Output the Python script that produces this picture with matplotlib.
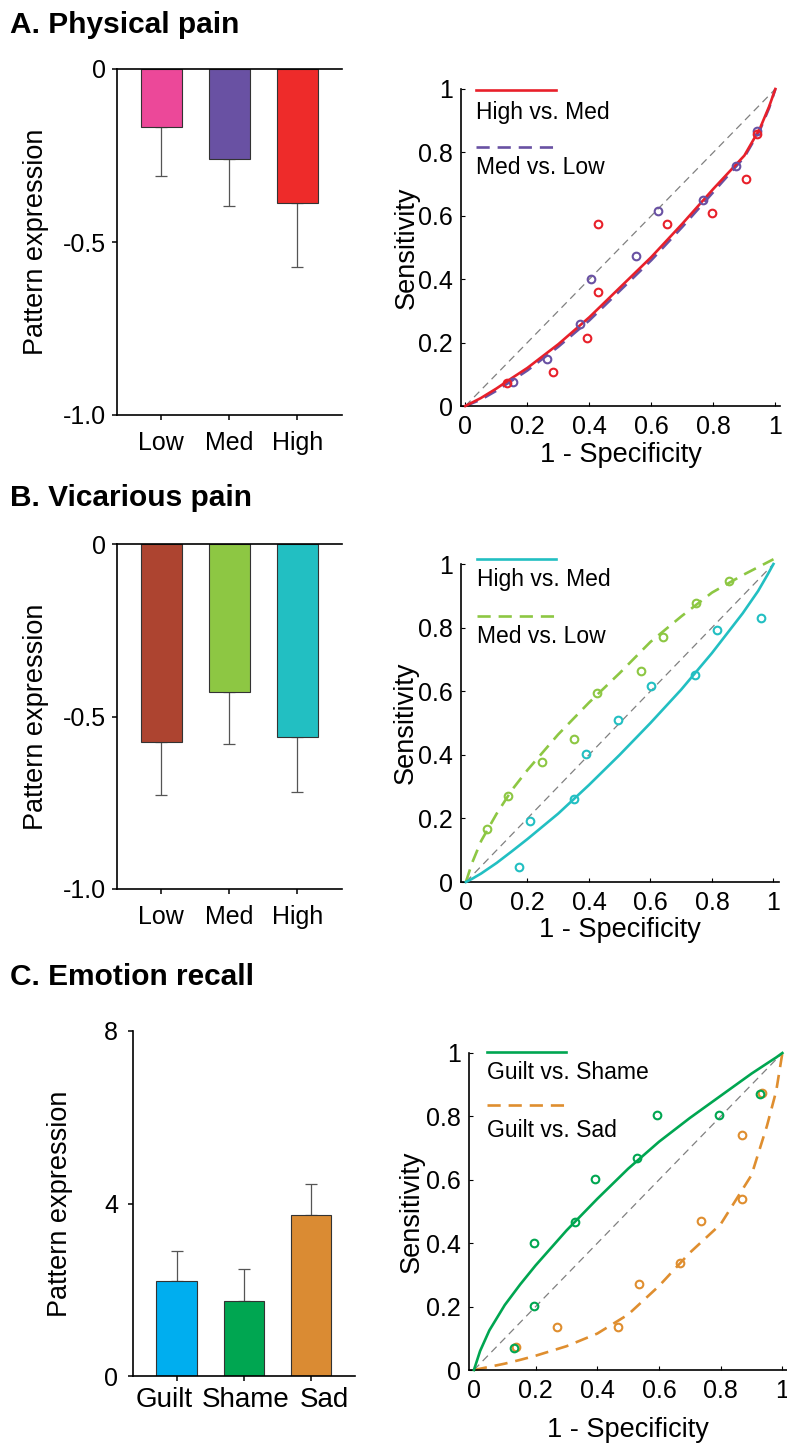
import matplotlib.pyplot as plt
from matplotlib.transforms import ScaledTranslation

plt.rcParams['font.family'] = ['Liberation Sans', 'DejaVu Sans']

W, H = 787, 1445

# bar charts: mean pattern expression and upper error (SEM)
pain_levels = ['Low', 'Med', 'High']
physical_mean = [-0.168, -0.261, -0.386]
physical_err = [0.142, 0.134, 0.185]
physical_colors = ['#EC4899', '#6951A3', '#EE2B2A']

vicarious_mean = [-0.575, -0.430, -0.560]
vicarious_err = [0.153, 0.150, 0.158]
vicarious_colors = ['#AD4430', '#8DC743', '#22BFC2']

emotions = ['Guilt', 'Shame', 'Sad']
emotion_mean = [2.20, 1.75, 3.73]
emotion_err = [0.70, 0.73, 0.73]
emotion_colors = ['#00AEEF', '#00A651', '#DA8B33']

# ROC observed points (1 - specificity, sensitivity)
a_hm_fpr = [0.134, 0.283, 0.391, 0.429, 0.429, 0.649, 0.795, 0.904, 0.942]
a_hm_tpr = [0.072, 0.106, 0.216, 0.359, 0.574, 0.574, 0.608, 0.717, 0.859]
a_ml_fpr = [0.154, 0.262, 0.369, 0.406, 0.550, 0.621, 0.766, 0.872, 0.942]
a_ml_tpr = [0.077, 0.148, 0.258, 0.400, 0.472, 0.614, 0.650, 0.758, 0.866]

b_hm_fpr = [0.174, 0.209, 0.352, 0.389, 0.496, 0.602, 0.745, 0.818, 0.960]
b_hm_tpr = [0.047, 0.191, 0.261, 0.402, 0.510, 0.617, 0.651, 0.793, 0.830]
b_ml_fpr = [0.068, 0.138, 0.247, 0.353, 0.426, 0.569, 0.640, 0.749, 0.857]
b_ml_tpr = [0.166, 0.271, 0.378, 0.450, 0.593, 0.664, 0.769, 0.877, 0.948]

c_gsh_fpr = [0.131, 0.196, 0.196, 0.328, 0.393, 0.528, 0.595, 0.795, 0.927]
c_gsh_tpr = [0.068, 0.202, 0.402, 0.468, 0.603, 0.668, 0.803, 0.803, 0.870]
c_gsa_fpr = [0.137, 0.268, 0.468, 0.534, 0.667, 0.735, 0.868, 0.868, 0.935]
c_gsa_tpr = [0.072, 0.137, 0.137, 0.272, 0.339, 0.471, 0.539, 0.740, 0.874]

# fitted ROC curves
curve_fpr = [0, 0.02, 0.05, 0.1, 0.15, 0.2, 0.3, 0.4, 0.5, 0.6, 0.7, 0.8, 0.9, 0.95, 0.98, 1.0]
a_hm_fit = [0, 0.01, 0.025, 0.055, 0.088, 0.12, 0.195, 0.28, 0.375, 0.47, 0.575, 0.685, 0.79, 0.875, 0.945, 1.0]
a_ml_fit = [0, 0.008, 0.02, 0.048, 0.08, 0.112, 0.187, 0.27, 0.365, 0.46, 0.565, 0.675, 0.785, 0.87, 0.94, 1.0]
b_hm_fit = [0, 0.01, 0.027, 0.06, 0.097, 0.135, 0.215, 0.305, 0.40, 0.50, 0.605, 0.72, 0.845, 0.915, 0.965, 1.0]
b_ml_fit = [0, 0.06, 0.13, 0.215, 0.29, 0.352, 0.464, 0.564, 0.657, 0.755, 0.835, 0.91, 0.965, 0.99, 1.005, 1.015]
c_gsh_fit = [0, 0.06, 0.125, 0.205, 0.27, 0.33, 0.44, 0.54, 0.635, 0.72, 0.795, 0.865, 0.935, 0.967, 0.986, 1.0]
c_gsa_fit = [0, 0.004, 0.01, 0.02, 0.032, 0.045, 0.075, 0.115, 0.175, 0.265, 0.37, 0.46, 0.615, 0.77, 0.88, 1.0]

fig = plt.figure(figsize=(W / 100, H / 100), dpi=100)


def px_axes(l, t, r, b):
    return fig.add_axes([l / W, 1 - b / H, (r - l) / W, (b - t) / H])


def bar_panel(ax, labels, mean, err, colors, ylim, yticks, yticklabels, negative,
              xsize, xpad, ypad, ylab_x):
    pos = list(range(len(labels)))
    if negative:
        yerr = [err, [0] * len(err)]
    else:
        yerr = [[0] * len(err), err]
    ax.bar(pos, mean, width=0.6, color=colors, edgecolor='#333333', linewidth=0.8, zorder=2)
    ax.errorbar(pos, mean, yerr=yerr, fmt='none', ecolor='#555555', elinewidth=0.9,
                capsize=4, capthick=0.9, zorder=1)
    ax.set_xlim(-0.65, 2.66)
    ax.set_ylim(*ylim)
    ax.set_yticks(yticks)
    ax.set_yticklabels(yticklabels)
    ax.set_xticks(pos)
    ax.set_xticklabels(labels)
    ax.spines['right'].set_visible(False)
    ax.spines['top'].set_visible(negative)
    for s in ax.spines.values():
        s.set_linewidth(1.2)
    ax.tick_params(direction='out', length=3.6, width=1.1)
    ax.tick_params(axis='x', labelsize=xsize, pad=xpad)
    ax.tick_params(axis='y', labelsize=18, pad=ypad)
    ax.set_ylabel('Pattern expression', fontsize=19.5)
    ax.yaxis.label.set_va('center')
    ax.yaxis.set_label_coords(ylab_x, 0.5)


def roc_panel(ax, fpr1, tpr1, fit1, c1, lab1, fpr2, tpr2, fit2, c2, lab2, xlim, leg,
              xlab_y, ylab_x):
    ax.plot([0, 1], [0, 1], color='#808080', lw=0.9, dashes=(6, 4), zorder=1)
    ax.plot(curve_fpr, fit2, color=c2, lw=1.9, dashes=(5, 3), zorder=2, clip_on=False)
    ax.plot(curve_fpr, fit1, color=c1, lw=1.9, zorder=3, clip_on=False)
    ax.plot(fpr2, tpr2, 'o', mfc='none', mec=c2, mew=1.5, ms=5.5, zorder=4)
    ax.plot(fpr1, tpr1, 'o', mfc='none', mec=c1, mew=1.5, ms=5.5, zorder=4)
    ax.set_xlim(*xlim)
    ax.set_ylim(0, 1)
    ticks = [0, 0.2, 0.4, 0.6, 0.8, 1]
    names = ['0', '0.2', '0.4', '0.6', '0.8', '1']
    ax.set_xticks(ticks)
    ax.set_xticklabels(names)
    ax.set_yticks(ticks)
    ax.set_yticklabels(names)
    ax.spines['right'].set_visible(False)
    ax.spines['top'].set_visible(False)
    for s in ax.spines.values():
        s.set_linewidth(1.2)
    ax.tick_params(direction='in', length=3, width=0.8, labelsize=18)
    ax.tick_params(axis='x', pad=6.5)
    ax.tick_params(axis='y', pad=6)
    ax.set_xlabel('1 - Specificity', fontsize=19.5)
    ax.xaxis.label.set_va('center')
    ax.xaxis.set_label_coords(0.5, xlab_y)
    ax.set_ylabel('Sensitivity', fontsize=19.5)
    ax.yaxis.label.set_va('center')
    ax.yaxis.set_label_coords(ylab_x, 0.5)
    # legend drawn by hand: line sample above each label
    x0, x1, y1, t1, y2, t2 = leg
    ax.plot([x0, x1], [y1, y1], color=c1, lw=1.9, transform=ax.transAxes, clip_on=False)
    ax.text(x0, t1, lab1, fontsize=16.5, va='center', ha='left', transform=ax.transAxes)
    ax.plot([x0, x1], [y2, y2], color=c2, lw=1.9, dashes=(5, 3), transform=ax.transAxes, clip_on=False)
    ax.text(x0, t2, lab2, fontsize=16.5, va='center', ha='left', transform=ax.transAxes)


# A. Physical pain
ax = px_axes(117, 69, 342, 415)
bar_panel(ax, pain_levels, physical_mean, physical_err, physical_colors,
          (-1, 0), [-1, -0.5, 0], ['-1.0', '-0.5', '0'], True, 18, 8, 4, -0.36)
ax = px_axes(461, 89, 780, 406)
roc_panel(ax, a_hm_fpr, a_hm_tpr, a_hm_fit, '#E8202A', 'High vs. Med',
          a_ml_fpr, a_ml_tpr, a_ml_fit, '#6951A3', 'Med vs. Low',
          (-0.014, 1.015), (0.047, 0.298, 0.997, 0.927, 0.817, 0.751), -0.156, -0.17)

# B. Vicarious pain
ax = px_axes(117, 544, 342, 889)
bar_panel(ax, pain_levels, vicarious_mean, vicarious_err, vicarious_colors,
          (-1, 0), [-1, -0.5, 0], ['-1.0', '-0.5', '0'], True, 18, 8, 4, -0.36)
ax = px_axes(461, 564, 779, 882)
roc_panel(ax, b_hm_fpr, b_hm_tpr, b_hm_fit, '#22BFC2', 'High vs. Med',
          b_ml_fpr, b_ml_tpr, b_ml_fit, '#8DC743', 'Med vs. Low',
          (-0.016, 1.018), (0.05, 0.30, 1.016, 0.950, 0.837, 0.771), -0.152, -0.175)

# C. Emotion recall
ax = px_axes(133, 1031, 355, 1376)
bar_panel(ax, emotions, emotion_mean, emotion_err, emotion_colors,
          (0, 8), [0, 4, 8], ['0', '4', '8'], False, 20, 4.5, 7, -0.33)
# the category names sit spread out under the bars in the original
for lab, dx in zip(ax.get_xticklabels(), [-12, 2, 14]):
    lab.set_transform(lab.get_transform() + ScaledTranslation(dx / 100, 0, fig.dpi_scale_trans))
ax = px_axes(469, 1053, 787, 1370)
roc_panel(ax, c_gsh_fpr, c_gsh_tpr, c_gsh_fit, '#00A651', 'Guilt vs. Shame',
          c_gsa_fpr, c_gsa_tpr, c_gsa_fit, '#DF8E2F', 'Guilt vs. Sad',
          (-0.016, 1.015), (0.056, 0.305, 1.004, 0.938, 0.835, 0.757), -0.189, -0.18)

fig.text(10 / W, 1 - 25 / H, 'A. Physical pain', fontsize=21.5, weight='bold', va='center')
fig.text(10 / W, 1 - 498 / H, 'B. Vicarious pain', fontsize=21.5, weight='bold', va='center')
fig.text(10 / W, 1 - 977 / H, 'C. Emotion recall', fontsize=21.5, weight='bold', va='center')

fig.savefig('out.png', dpi=100)
